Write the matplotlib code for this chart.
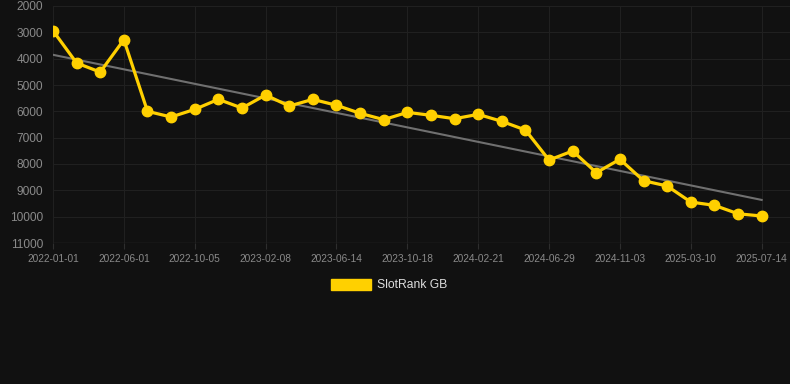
import matplotlib.pyplot as plt
import matplotlib.patches as mpatches
import numpy as np

plt.rcParams['font.family'] = ['Liberation Sans', 'DejaVu Sans']

# SlotRank GB, one point every ~6 weeks (lower rank number = better)
ranks = [2940, 4165, 4510, 3280, 6000, 6215, 5925, 5545, 5875, 5380,
         5800, 5545, 5770, 6075, 6315, 6040, 6150, 6280, 6115, 6380,
         6710, 7850, 7505, 8330, 7820, 8635, 8835, 9445, 9570, 9890, 9975]
tick_labels = ["2022-01-01", "2022-06-01", "2022-10-05", "2023-02-08", "2023-06-14",
               "2023-10-18", "2024-02-21", "2024-06-29", "2024-11-03", "2025-03-10",
               "2025-07-14"]
y_ticks = [2000, 3000, 4000, 5000, 6000, 7000, 8000, 9000, 10000, 11000]

bg = "#111111"
yellow = "#FFD000"

x = np.arange(len(ranks))
slope, icept = np.polyfit(x, ranks, 1)
trend = slope * x + icept

fig = plt.figure(figsize=(7.9, 3.84), dpi=100, facecolor=bg)
ax = fig.add_axes([53 / 790, 1 - 243 / 384, 737 / 790, 237 / 384])
ax.set_facecolor(bg)

ax.plot(x, trend, color="#707070", lw=1.5, zorder=2)
ax.plot(x, ranks, color=yellow, lw=2.3, marker="o", ms=7.5, zorder=3)

ax.set_xlim(0, 31.2)
ax.set_ylim(11000, 2000)
ax.set_yticks(y_ticks)
ax.set_xticks(x[::3])
ax.set_xticklabels(tick_labels)

ax.grid(True, color="#202020", lw=0.8)
for s in ax.spines.values():
    s.set_visible(False)
ax.axhline(11000, color="#2e2e2e", lw=1, zorder=1)
ax.tick_params(axis="y", colors="#8a8a8a", labelsize=8.6, length=0, pad=7)
ax.tick_params(axis="x", colors="#8a8a8a", labelsize=7.3, length=4, color="#2e2e2e", pad=4)

handle = mpatches.Patch(color=yellow, label="SlotRank GB")
fig.legend(handles=[handle], loc="center", bbox_to_anchor=(0.493, 1 - 285 / 384),
           frameon=False, labelcolor="#dddddd", fontsize=8.7,
           handlelength=3.3, handleheight=1.1, handletextpad=0.5)

fig.savefig("out.png", dpi=100, facecolor=bg)
